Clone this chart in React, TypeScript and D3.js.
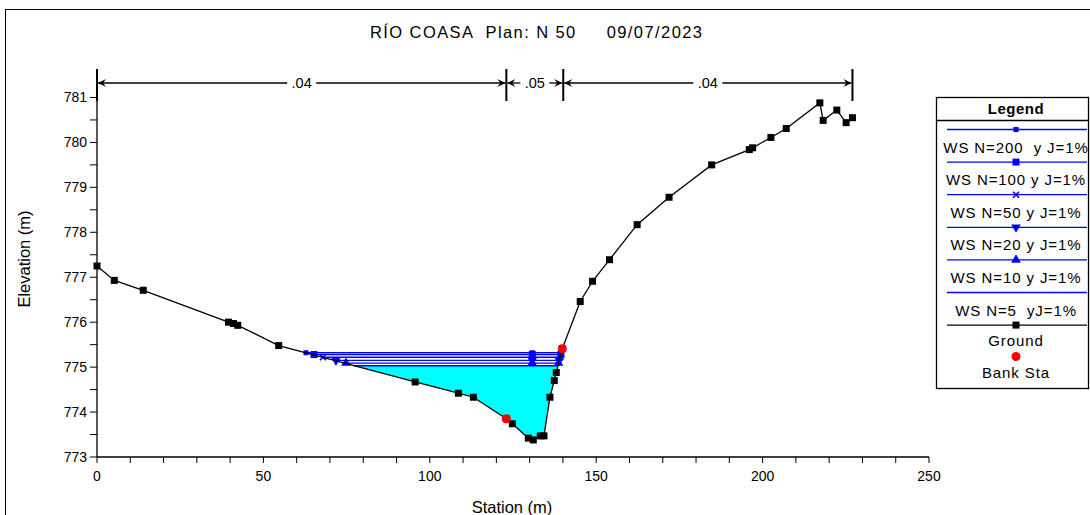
import React from "react";
import * as d3 from "d3";

// ---------- data ----------
const groundStation = [0, 5.2, 13.9, 39.5, 41.0, 42.3, 54.6, 95.6, 108.6, 113.1, 123.0, 124.8, 129.6, 131.1, 133.2, 134.3, 136.1, 137.4, 138.0, 139.8, 145.2, 148.9, 154.0, 162.3, 171.9, 184.7, 196.0, 197.0, 202.5, 207.1, 217.2, 218.2, 222.3, 225.1, 227.0];
const groundElev = [777.25, 776.93, 776.71, 776.0, 775.97, 775.93, 775.48, 774.67, 774.42, 774.33, 773.85, 773.74, 773.42, 773.38, 773.47, 773.47, 774.33, 774.70, 774.88, 775.41, 776.46, 776.91, 777.39, 778.17, 778.78, 779.50, 779.84, 779.88, 780.11, 780.31, 780.88, 780.49, 780.72, 780.44, 780.55];

const bankStation = [123.0, 139.8];
const bankElev = [773.85, 775.41];

const wsNames = ["WS N=200  y J=1%", "WS N=100 y J=1%", "WS N=50 y J=1%", "WS N=20 y J=1%", "WS N=10 y J=1%", "WS N=5  yJ=1%"];
const wsMarkers = ["smallSquare", "square", "x", "triDown", "triUp", "none"];
const wsElev = [775.32, 775.28, 775.22, 775.15, 775.09, 775.03];
const wsLeft = [62.8, 65.2, 67.9, 71.8, 74.8, 77.2];
const wsMid = [130.8, 130.8, 130.8, 130.8, 130.8, 130.8];
const wsRight = [139.5, 139.4, 139.2, 138.9, 138.7, 138.5];

const manningStations = [0, 123.0, 140.1, 227.0];
const manningValues = [".04", ".05", ".04"];

const xTicks = [0, 50, 100, 150, 200, 250];
const yTicks = [773, 774, 775, 776, 777, 778, 779, 780, 781];

const titleText = "RÍO COASA  Plan: N 50     09/07/2023";

// ---------- layout ----------
const W = 1090, H = 515;
const x = d3.scaleLinear().domain([0, 250]).range([97, 929]);
const y = d3.scaleLinear().domain([773, 781.5]).range([457, 75]);
const FONT = "'Liberation Sans', Arial, sans-serif";
const BLUE = "#0000ff";

function Marker({ kind, cx, cy, color }: { kind: string; cx: number; cy: number; color: string }) {
  if (kind === "none") return null;
  if (kind === "smallSquare") return <rect x={cx - 2.5} y={cy - 2.5} width={5} height={5} fill={color} />;
  if (kind === "square") return <rect x={cx - 3.5} y={cy - 3.5} width={7} height={7} fill={color} />;
  if (kind === "x")
    return (
      <g stroke={color} strokeWidth={1.6}>
        <line x1={cx - 3} y1={cy - 3} x2={cx + 3} y2={cy + 3} />
        <line x1={cx - 3} y1={cy + 3} x2={cx + 3} y2={cy - 3} />
      </g>
    );
  const tri = d3.symbol().type(d3.symbolTriangle).size(40)() as string;
  if (kind === "triDown") return <path d={tri} transform={`translate(${cx},${cy}) rotate(180)`} fill={color} />;
  if (kind === "triUp") return <path d={tri} transform={`translate(${cx},${cy})`} fill={color} />;
  return null;
}

export default function App() {
  const line = d3.line<number>().x((_, i) => x(groundStation[i])).y((_, i) => y(groundElev[i]));
  const groundPath = line(groundStation) as string;

  // cyan fill under the lowest water surface
  const fe = wsElev[wsElev.length - 1];
  const fl = wsLeft[wsLeft.length - 1];
  const fr = wsRight[wsRight.length - 1];
  const fillPts: [number, number][] = [[x(fl), y(fe)]];
  groundStation.forEach((s, i) => {
    if (s > fl && s < fr) fillPts.push([x(s), y(groundElev[i])]);
  });
  fillPts.push([x(fr), y(fe)]);
  const fillPath = "M" + fillPts.map((p) => p.join(",")).join("L") + "Z";

  const xMinor = d3.range(0, 251, 10);
  const yMinor = d3.range(773, 781.01, 0.5);

  const mY = 83;
  const legendX0 = 936, legendX1 = 1088, legendTop = 97, legendBottom = 388;
  const legendCx = 1016;
  const legLine0 = 129.5, legStep = 32.6;
  const legFont = 15, legSpacing = 0.9;

  return (
    <svg width={W} height={H} style={{ position: "absolute", left: 0, top: 0, background: "#fff" }} fontFamily={FONT}>
      <rect x={5.5} y={9.5} width={1100} height={520} fill="#fff" stroke="#000" strokeWidth={1} />

      <text x={370} y={38} fontSize={16.5} textLength={332} lengthAdjust="spacing" style={{ whiteSpace: "pre" }}>{titleText}</text>

      {/* water fill */}
      <path d={fillPath} fill="#00ffff" />

      {/* WS lines */}
      {wsElev.map((e, i) => (
        <g key={i}>
          <line x1={x(wsLeft[i])} x2={x(wsRight[i])} y1={y(e)} y2={y(e)} stroke={BLUE} strokeWidth={1.3} />
        </g>
      ))}
      {wsElev.map((e, i) => (
        <g key={"m" + i}>
          <Marker kind={wsMarkers[i]} cx={x(wsLeft[i])} cy={y(e)} color={BLUE} />
          <Marker kind={wsMarkers[i]} cx={x(wsMid[i])} cy={y(e)} color={BLUE} />
          <Marker kind={wsMarkers[i]} cx={x(wsRight[i])} cy={y(e)} color={BLUE} />
        </g>
      ))}

      {/* ground */}
      <path d={groundPath} fill="none" stroke="#000" strokeWidth={1.3} />
      {groundStation.map((s, i) => (
        <rect key={i} x={x(s) - 3.5} y={y(groundElev[i]) - 3.5} width={7} height={7} fill="#000" />
      ))}
      {bankStation.map((s, i) => (
        <circle key={i} cx={x(s)} cy={y(bankElev[i])} r={4.5} fill="#ff0000" />
      ))}

      {/* Manning n markers */}
      {manningStations.map((s, i) => (
        <line key={i} x1={x(s)} x2={x(s)} y1={mY - 14} y2={mY + 18} stroke="#000" strokeWidth={2} />
      ))}
      {manningValues.map((v, i) => {
        const a = x(manningStations[i]);
        const b = x(manningStations[i + 1]);
        const c = (a + b) / 2;
        const tw = v.length * 7 + 8;
        return (
          <g key={i}>
            <line x1={a + 1} x2={c - tw / 2} y1={mY} y2={mY} stroke="#000" strokeWidth={1.3} />
            <line x1={c + tw / 2} x2={b - 1} y1={mY} y2={mY} stroke="#000" strokeWidth={1.3} />
            <path d={`M${a + 1},${mY} L${a + 9},${mY - 4} L${a + 6},${mY} L${a + 9},${mY + 4} Z`} fill="#000" />
            <path d={`M${b - 1},${mY} L${b - 9},${mY - 4} L${b - 6},${mY} L${b - 9},${mY + 4} Z`} fill="#000" />
            <text x={c} y={mY + 5} textAnchor="middle" fontSize={14.5}>{v}</text>
          </g>
        );
      })}

      {/* axes */}
      <line x1={x(0)} x2={x(0)} y1={y(773)} y2={y(781.5)} stroke="#000" strokeWidth={1.3} />
      <line x1={x(0)} x2={x(250)} y1={y(773)} y2={y(773)} stroke="#000" strokeWidth={1.3} />
      {yMinor.map((v) => (
        <line key={v} x1={x(0) - 7} x2={x(0)} y1={y(v)} y2={y(v)} stroke="#000" strokeWidth={1} />
      ))}
      {yTicks.map((v) => (
        <text key={v} x={x(0) - 10} y={y(v) + 5} textAnchor="end" fontSize={14}>{v}</text>
      ))}
      {xMinor.map((v) => (
        <line key={v} x1={x(v)} x2={x(v)} y1={y(773)} y2={y(773) + 6} stroke="#000" strokeWidth={1} />
      ))}
      {xTicks.map((v) => (
        <text key={v} x={x(v)} y={481} textAnchor="middle" fontSize={14}>{v}</text>
      ))}
      <text x={512} y={513} textAnchor="middle" fontSize={16.5}>Station (m)</text>
      <text transform={`translate(30,259) rotate(-90)`} textAnchor="middle" fontSize={16.5}>Elevation (m)</text>

      {/* legend */}
      <rect x={legendX0 + 0.5} y={legendTop + 0.5} width={legendX1 - legendX0} height={legendBottom - legendTop} fill="#fff" stroke="#000" strokeWidth={1.3} />
      <text x={legendCx} y={114} textAnchor="middle" fontSize={15} fontWeight="bold" letterSpacing={0.5}>Legend</text>
      <line x1={legendX0} x2={legendX1} y1={120.5} y2={120.5} stroke="#000" strokeWidth={1.3} />
      {wsNames.map((n, i) => {
        const ly = legLine0 + i * legStep;
        return (
          <g key={i}>
            <line x1={947} x2={1087} y1={ly} y2={ly} stroke={BLUE} strokeWidth={1.3} />
            <Marker kind={wsMarkers[i]} cx={legendCx} cy={ly} color={BLUE} />
            <text x={legendCx} y={ly + 23} textAnchor="middle" fontSize={legFont} letterSpacing={legSpacing} style={{ whiteSpace: "pre" }}>{n}</text>
          </g>
        );
      })}
      <line x1={947} x2={1087} y1={legLine0 + 6 * legStep} y2={legLine0 + 6 * legStep} stroke="#000" strokeWidth={1.3} />
      <rect x={legendCx - 3.5} y={legLine0 + 6 * legStep - 3.5} width={7} height={7} fill="#000" />
      <text x={legendCx} y={legLine0 + 6 * legStep + 21} textAnchor="middle" fontSize={legFont} letterSpacing={legSpacing}>Ground</text>
      <circle cx={legendCx} cy={356.5} r={4.5} fill="#ff0000" />
      <text x={legendCx} y={378} textAnchor="middle" fontSize={legFont} letterSpacing={legSpacing}>Bank Sta</text>
    </svg>
  );
}
